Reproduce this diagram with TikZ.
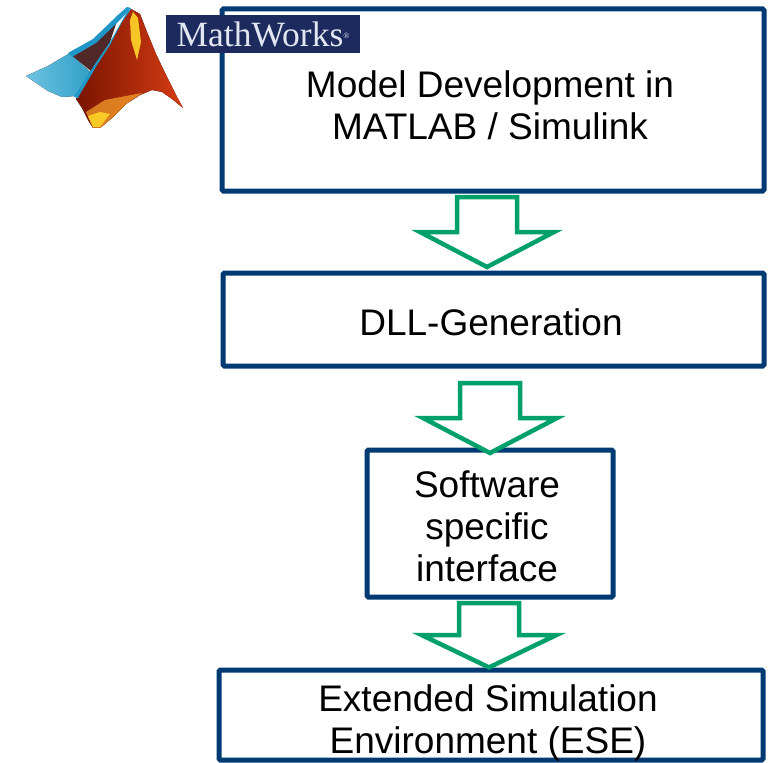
\documentclass[tikz,border=0pt]{standalone}
\usepackage{fontspec}
\setmainfont{Liberation Sans}
\newfontfamily\mwfont{Liberation Serif}
\definecolor{boxblue}{RGB}{0,58,115}
\definecolor{arrgreen}{RGB}{0,160,108}
\definecolor{mwblue}{RGB}{28,42,94}
\definecolor{mwtext}{RGB}{226,230,240}
\definecolor{mlblueL}{RGB}{110,195,225}
\definecolor{mlblueR}{RGB}{50,160,200}
\definecolor{mlridge}{RGB}{30,150,200}
\definecolor{mlshadow}{RGB}{80,40,40}
\definecolor{mldark}{RGB}{120,20,0}
\definecolor{mlorange}{RGB}{250,165,45}
\definecolor{mlred}{RGB}{215,60,20}
\definecolor{mlyellow}{RGB}{255,215,40}
\tikzset{
  flowbox/.style={draw=boxblue, line width=5pt, rounded corners=1.5pt, fill=white, inner sep=0pt},
  boxtext/.style={align=center, inner sep=0pt, font=\fontsize{37}{42}\selectfont},
  arrowline/.style={draw=arrgreen, line width=4.5pt, line join=miter, fill=white},
  blockarrow/.pic={\path[arrowline] (-30,0) -- (30,0) -- (30,35) -- (67,35) -- (0,70) -- (-67,35) -- (-30,35) -- cycle;}
}
\begin{document}
\begin{tikzpicture}[x=1pt,y=-1pt]
\useasboundingbox (0,0) rectangle (770,762);

% boxes
\node[flowbox, minimum width=542pt, minimum height=182pt] (b1) at (493,100) {};
\node[flowbox, minimum width=541pt, minimum height=93pt] (b2) at (493.5,319.5) {};
\node[flowbox, minimum width=246pt, minimum height=147pt] (b3) at (490,523.5) {};
\node[flowbox, minimum width=544pt, minimum height=90pt] (b4) at (491,715) {};

\node[boxtext] (t1) at (490,105) {Model Development in\\ MATLAB / Simulink};
\node[boxtext] (t2) at (491,322) {DLL-Generation};
\node[boxtext] (t3) at (487,526) {Software\\ specific\\ interface};
\node[boxtext] (t4) at (488,723) {Extended Simulation\\ Environment (ESE)};

% block arrows
\pic at (487,197) {blockarrow};
\pic at (490,383) {blockarrow};
\pic[yscale=0.92] at (489,603) {blockarrow};

% MATLAB membrane logo
% blue wing
\fill[left color=mlblueL, right color=mlblueR]
  (26,76) -- (48,66) -- (70,53) -- (90,72) -- (76,96) -- (62,97) -- (48,91) -- cycle;
% dark fold
\fill[mlshadow] (70,54) -- (95,40) -- (118,18) -- (108,48) -- (92,72) -- cycle;
% blue upper ridge
\fill[mlridge] (68,53) -- (93,39) -- (118,15) -- (127,7) -- (131,8) -- (120,20) -- (96,43) -- (72,57) -- cycle;
% orange body
\fill[left color=mldark, middle color=mlorange, right color=mlred]
  (131,9) -- (122,22) -- (110,45) -- (97,65) -- (80,94) -- (76,99) -- (82,108) -- (88,120) -- (93,128) -- (100,128)
  -- (112,118) -- (126,104) -- (140,95) -- (152,90) -- (162,92) -- (172,99) -- (183,108)
  -- (176,95) -- (166,75) -- (156,54) -- (147,32) -- (140,14) -- cycle;
% brighter lower part
\fill[mlorange, opacity=0.7] (86,112) -- (105,100) -- (126,96) -- (142,93) -- (126,104) -- (112,118) -- (100,128) -- (93,128) -- cycle;
% yellow highlights
\fill[mlyellow, opacity=0.9] (133,12) -- (138,18) -- (141,42) -- (137,60) -- (131,40) -- (130,20) -- cycle;
\fill[mlyellow, opacity=0.85] (88,116) -- (100,112) -- (110,114) -- (100,127) -- (93,127) -- cycle;
% blue lower ridge
\fill[mlridge] (74,97) -- (95,64) -- (110,42) -- (127,12) -- (131,9) -- (122,22) -- (110,45) -- (97,65) -- (80,94) -- (78,98) -- cycle;

% MathWorks label
\node[fill=mwblue, minimum width=194pt, minimum height=38pt, inner sep=0pt, text=mwtext,
  font=\mwfont\fontsize{35.5}{36}\selectfont] (mw) at (263,34) {MathWorks\raisebox{8pt}{\fontsize{8}{8}\selectfont ®}};
\end{tikzpicture}
\end{document}
